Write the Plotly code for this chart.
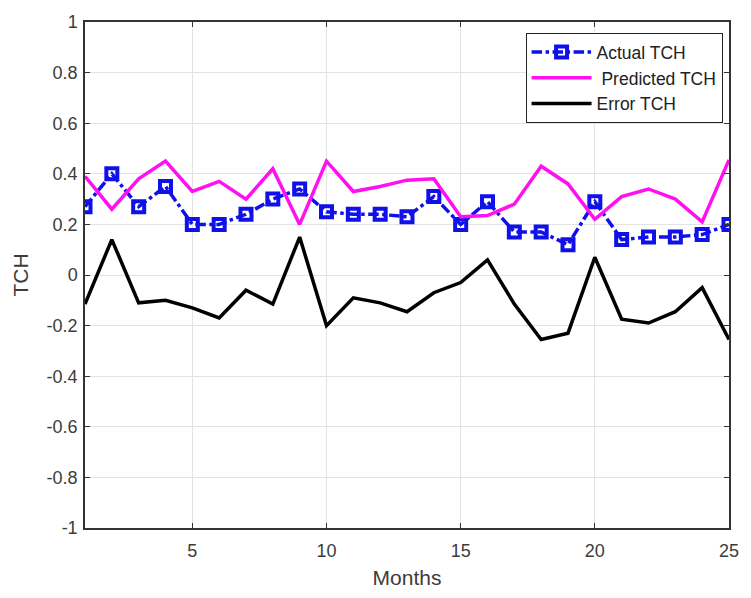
import plotly.graph_objects as go

months = list(range(1, 26))

actual_tch = [0.27, 0.40, 0.27, 0.35, 0.20, 0.20, 0.24, 0.30, 0.34, 0.25,
              0.24, 0.24, 0.23, 0.31, 0.20, 0.29, 0.17, 0.17, 0.12, 0.29,
              0.14, 0.15, 0.15, 0.16, 0.20]

predicted_tch = [0.39, 0.26, 0.38, 0.45, 0.33, 0.37, 0.30, 0.42, 0.20, 0.45,
                 0.33, 0.35, 0.375, 0.38, 0.23, 0.235, 0.28, 0.43, 0.36, 0.22,
                 0.31, 0.34, 0.30, 0.21, 0.455]

error_tch = [-0.115, 0.14, -0.11, -0.10, -0.13, -0.17, -0.06, -0.115, 0.15, -0.20,
             -0.09, -0.11, -0.145, -0.07, -0.03, 0.06, -0.115, -0.255, -0.23, 0.07,
             -0.175, -0.19, -0.145, -0.05, -0.255]

x_ticks = [5, 10, 15, 20, 25]
y_ticks = [-1, -0.8, -0.6, -0.4, -0.2, 0, 0.2, 0.4, 0.6, 0.8, 1]
y_tick_text = ["-1", "-0.8", "-0.6", "-0.4", "-0.2", "0", "0.2", "0.4", "0.6", "0.8", "1"]

FONT = "Liberation Sans, Arial, sans-serif"
tick_font = dict(family=FONT, size=18, color="#3c3c3c")
title_font = dict(family=FONT, size=21, color="#3c3c3c")

fig = go.Figure()

fig.add_trace(go.Scatter(
    x=months, y=actual_tch, name="Actual TCH", mode="lines+markers",
    line=dict(color="#1010e8", width=3.5, dash="dashdot"),
    marker=dict(symbol="square-open", size=11, color="#1010e8",
                line=dict(color="#1010e8", width=4)),
))
fig.add_trace(go.Scatter(
    x=months, y=predicted_tch, name=" Predicted TCH", mode="lines",
    line=dict(color="#ff10f0", width=3.5),
))
fig.add_trace(go.Scatter(
    x=months, y=error_tch, name="Error TCH", mode="lines",
    line=dict(color="#000000", width=3.5),
))

fig.update_layout(
    width=751, height=598,
    margin=dict(l=85, r=12, t=16, b=66),
    paper_bgcolor="white", plot_bgcolor="white",
    font=tick_font,
    showlegend=True,
    legend=dict(
        x=0.99, y=0.978, xanchor="right", yanchor="top",
        bgcolor="white", bordercolor="#222222", borderwidth=1,
        font=dict(family=FONT, size=17.5, color="#222222"),
        itemwidth=60, tracegroupgap=0,
    ),
    xaxis=dict(
        range=[1, 25], tickvals=x_ticks,
        showgrid=True, gridcolor="#e3e3e3", gridwidth=1,
        zeroline=False,
        showline=True, linecolor="#333333", linewidth=1.5, mirror="ticks",
        ticks="inside", ticklen=5, tickcolor="#333333",
        tickfont=tick_font, ticklabelstandoff=6,
        title=dict(text="Months", font=title_font, standoff=10),
    ),
    yaxis=dict(
        range=[-1, 1], tickvals=y_ticks, ticktext=y_tick_text,
        showgrid=True, gridcolor="#e3e3e3", gridwidth=1,
        zeroline=False,
        showline=True, linecolor="#333333", linewidth=1.5, mirror="ticks",
        ticks="inside", ticklen=5, tickcolor="#333333",
        tickfont=tick_font, ticklabelstandoff=2,
        title=dict(text="TCH", font=title_font, standoff=12),
    ),
)

fig.write_html("out.html")
